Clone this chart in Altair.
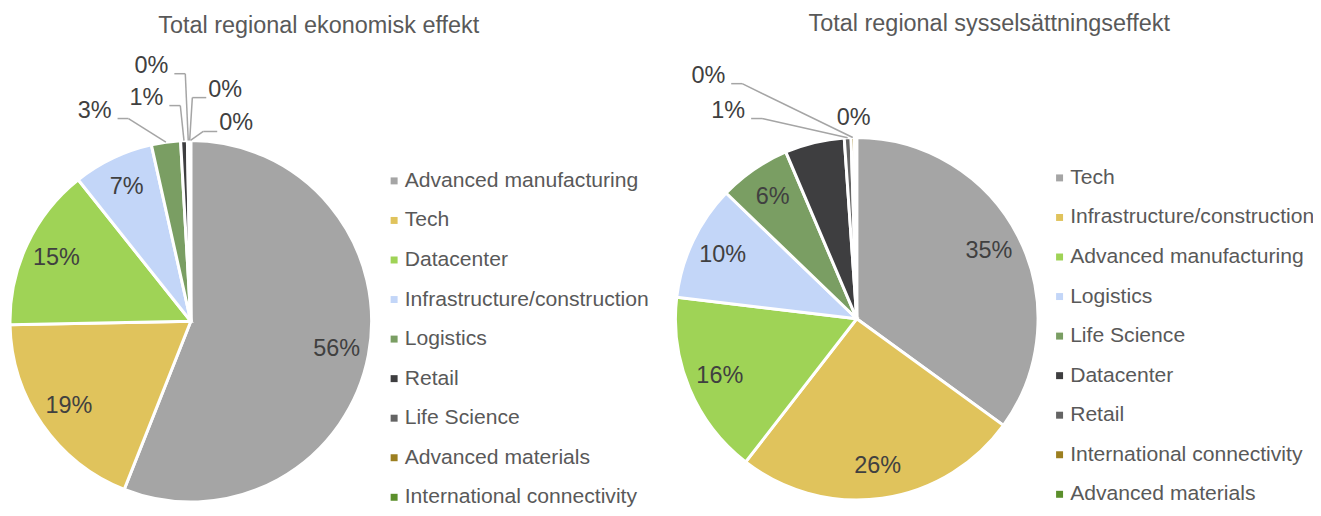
import math
import altair as alt
import pandas as pd

# ---------------- data ----------------
left_title = "Total regional ekonomisk effekt"
left_categories = ["Advanced manufacturing", "Tech", "Datacenter",
                   "Infrastructure/construction", "Logistics", "Retail",
                   "Life Science", "Advanced materials", "International connectivity"]
left_values = [56.0, 18.7, 14.6, 7.2, 2.6, 0.6, 0.15, 0.1, 0.05]

right_title = "Total regional sysselsättningseffekt"
right_categories = ["Tech", "Infrastructure/construction", "Advanced manufacturing",
                    "Logistics", "Life Science", "Datacenter", "Retail",
                    "International connectivity", "Advanced materials"]
right_values = [35.0, 25.5, 16.4, 10.3, 6.4, 5.3, 0.6, 0.3, 0.2]

palette = ["#A5A5A5", "#E0C35C", "#9FD356", "#C3D6F8", "#7A9E63",
           "#3E3E40", "#646464", "#9C7F20", "#5B8F2B"]

# ---------------- layout / style ----------------
FONT = "Liberation Sans"
W, H = 1310, 500
LABEL_FS = 23.5
LEGEND_FS = 21.2
TITLE_FS = 23.5
LABEL_COLOR = "#404040"
TEXT_COLOR = "#595959"
LEADER_COLOR = "#A5A5A5"

left_layout = dict(cx=183.5, cy=313.5, R=181.5, label_r=149,
                   title_x=312, title_y=24, legend_x=377, legend_y=162,
                   outside={"Logistics": (-96.5, -211.5),
                            "Retail": (-44.5, -224.5),
                            "Life Science": (-39.5, -256.5),
                            "Advanced materials": (34.5, -232.5),
                            "International connectivity": (45.5, -198.5)},
                   hidden=[])
right_layout = dict(cx=852, cy=311, R=182, label_r=149,
                    title_x=985, title_y=22, legend_x=1045, legend_y=159,
                    outside={"Retail": (-129, -209),
                             "International connectivity": (-149, -244),
                             "Advanced materials": (-3, -202)},
                    hidden=["Datacenter"])

xs = alt.Scale(domain=[0, W], nice=False, zero=False)
ys = alt.Scale(domain=[0, H], nice=False, zero=False, reverse=True)


def pie(categories, values, title, lay):
    total = sum(values)
    df = pd.DataFrame({"category": categories, "value": values,
                       "idx": list(range(len(values)))})
    df["pct"] = [f"{round(v / total * 100):d}%" for v in values]
    df["inside"] = [p if (c not in lay["outside"] and c not in lay["hidden"]) else ""
                    for c, p in zip(categories, df["pct"])]

    cx, cy, R = lay["cx"], lay["cy"], lay["R"]

    arc = alt.Chart(df).mark_arc(outerRadius=R, stroke="white", strokeWidth=3).encode(
        theta=alt.Theta("value:Q", stack=True),
        order=alt.Order("idx:Q", sort="ascending"),
        color=alt.Color("category:N",
                        scale=alt.Scale(domain=categories, range=palette),
                        legend=alt.Legend(orient="none", legendX=lay["legend_x"],
                                          legendY=lay["legend_y"], title=None,
                                          labelFontSize=LEGEND_FS, labelFont=FONT,
                                          labelColor=TEXT_COLOR, symbolType="square",
                                          symbolSize=49, symbolStrokeWidth=0,
                                          rowPadding=17.7, labelOffset=0,
                                          labelLimit=400, padding=0)),
        x=alt.value(cx), y=alt.value(cy),
    )

    inside = alt.Chart(df).mark_text(radius=lay["label_r"], fontSize=LABEL_FS, font=FONT,
                                     color=LABEL_COLOR, baseline="middle",
                                     align="center").encode(
        theta=alt.Theta("value:Q", stack=True),
        order=alt.Order("idx:Q", sort="ascending"),
        text="inside:N",
        x=alt.value(cx), y=alt.value(cy),
    )

    # outside labels + leader lines (rim point from the data's slice angle)
    cum = 0.0
    out_rows, seg_rows = [], []
    for c, v, p in zip(categories, values, df["pct"]):
        mid = (cum + v / 2) / total * 2 * math.pi
        cum += v
        if c not in lay["outside"]:
            continue
        dx, dy = lay["outside"][c]
        lx, ly = cx + dx, cy + dy
        out_rows.append({"x": lx, "y": ly, "t": p})
        rx, ry = cx + R * math.sin(mid), cy - R * math.cos(mid)
        if abs(lx - rx) > 20:
            hw = 0.5 * LABEL_FS * (0.556 * (len(p) - 1) + 0.889)
            if lx < rx:
                sx = lx + hw + 6
                ex = sx + 11
            else:
                sx = lx - hw - 2
                ex = sx - 14
            sy = ly + 8
            seg_rows.append({"x": sx, "y": sy, "x2": ex, "y2": sy})
            seg_rows.append({"x": ex, "y": sy, "x2": rx, "y2": ry})

    out_df = pd.DataFrame(out_rows)
    seg_df = pd.DataFrame(seg_rows)

    out_text = alt.Chart(out_df).mark_text(fontSize=LABEL_FS, font=FONT, color=LABEL_COLOR,
                                           baseline="middle", align="center").encode(
        x=alt.X("x:Q", scale=xs, axis=None),
        y=alt.Y("y:Q", scale=ys, axis=None),
        text="t:N",
    )
    leaders = alt.Chart(seg_df).mark_rule(color=LEADER_COLOR, strokeWidth=1.5).encode(
        x=alt.X("x:Q", scale=xs, axis=None),
        y=alt.Y("y:Q", scale=ys, axis=None),
        x2="x2:Q", y2="y2:Q",
    )

    ttl = alt.Chart(pd.DataFrame({"t": [title]})).mark_text(
        fontSize=TITLE_FS, font=FONT, color=TEXT_COLOR, align="center",
        baseline="alphabetic").encode(
        text="t:N", x=alt.value(lay["title_x"]), y=alt.value(lay["title_y"]))

    return [arc, inside, leaders, out_text, ttl]


layers = pie(left_categories, left_values, left_title, left_layout) + \
    pie(right_categories, right_values, right_title, right_layout)

chart = alt.layer(*layers).resolve_scale(
    color="independent", theta="independent"
).properties(
    width=W, height=H, padding=0,
    autosize=alt.AutoSizeParams(type="none"),
).configure_view(stroke=None)

chart.save("out.html", embed_options={"renderer": "svg", "actions": False})
